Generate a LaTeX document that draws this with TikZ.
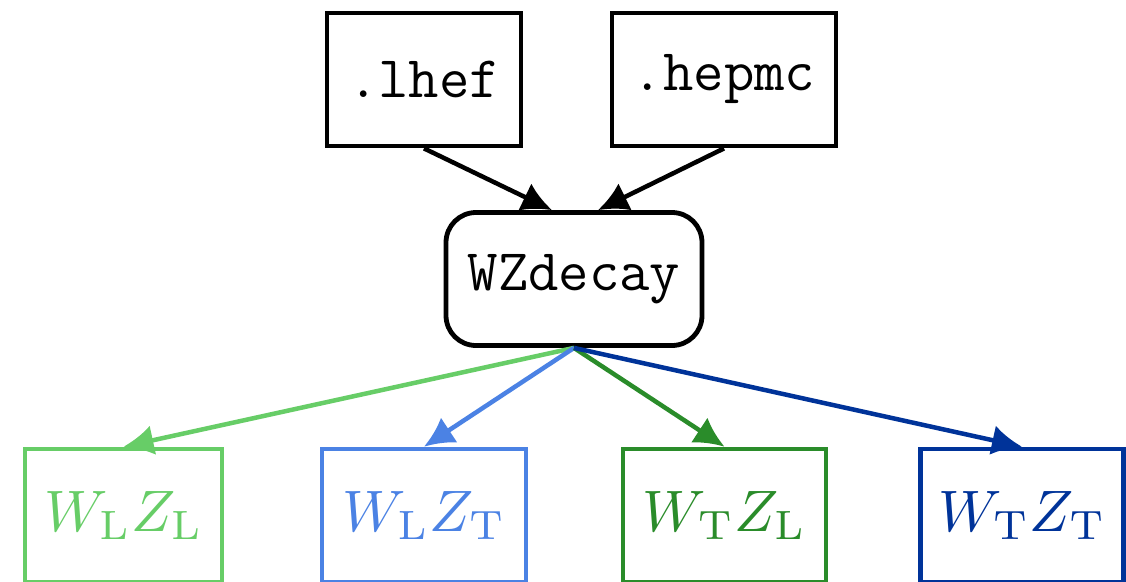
\documentclass[tikz,border=0pt]{standalone}
\usepackage{graphicx}
\usetikzlibrary{arrows.meta,calc}
\definecolor{cLL}{RGB}{103,205,103}
\definecolor{cLT}{RGB}{75,130,228}
\definecolor{cTL}{RGB}{42,140,42}
\definecolor{cTT}{RGB}{0,51,153}
\newcommand{\modelabel}[2]{\scalebox{5.85}{$W_{\mathrm{#1}}Z_{\mathrm{#2}}$}}
\tikzset{
  filebox/.style={draw,line width=4.8pt,minimum height=133pt,inner sep=0pt,
    font=\ttfamily\fontsize{59}{62}\selectfont},
  toolbox/.style={filebox,rounded corners=30pt},
  modebox/.style={draw=#1,text=#1,line width=4.6pt,minimum width=200pt,minimum height=133pt,
    inner sep=0pt},
  flow/.style={line width=4.5pt,-{Latex[length=30pt,width=30pt]}},
}
\begin{document}
\begin{tikzpicture}[x=1pt,y=-1pt]
\useasboundingbox (0,0) rectangle (1126,581);
\clip (0,0) rectangle (1126,581);
% input formats
\node[filebox,minimum width=194pt] (lhef) at (424,79.5) {.lhef};
\node[filebox,minimum width=224pt] (hepmc) at (724,79.5) {.hepmc};
% decay tool
\node[toolbox,minimum width=256pt] (wz) at (574,279) {WZdecay};
% polarisation modes
\node[modebox=cLL,minimum width=197pt] (ll) at (123.5,515.5) {\modelabel{L}{L}};
\node[modebox=cLT,minimum width=204pt] (lt) at (424,515.5) {\modelabel{L}{T}};
\node[modebox=cTL,minimum width=203pt] (tl) at (724.5,515.5) {\modelabel{T}{L}};
\node[modebox=cTT,minimum width=203pt] (tt) at (1022,515.5) {\modelabel{T}{T}};
% connectors
\draw[flow] (lhef.south) -- ($(wz.north)+(-22,0)$);
\draw[flow] (hepmc.south) -- ($(wz.north)+(24,0)$);
\draw[flow,draw=cLL,fill=cLL] (wz.south) -- (ll.north);
\draw[flow,draw=cLT,fill=cLT] (wz.south) -- (lt.north);
\draw[flow,draw=cTL,fill=cTL] (wz.south) -- (tl.north);
\draw[flow,draw=cTT,fill=cTT] (wz.south) -- (tt.north);
\end{tikzpicture}
\end{document}
